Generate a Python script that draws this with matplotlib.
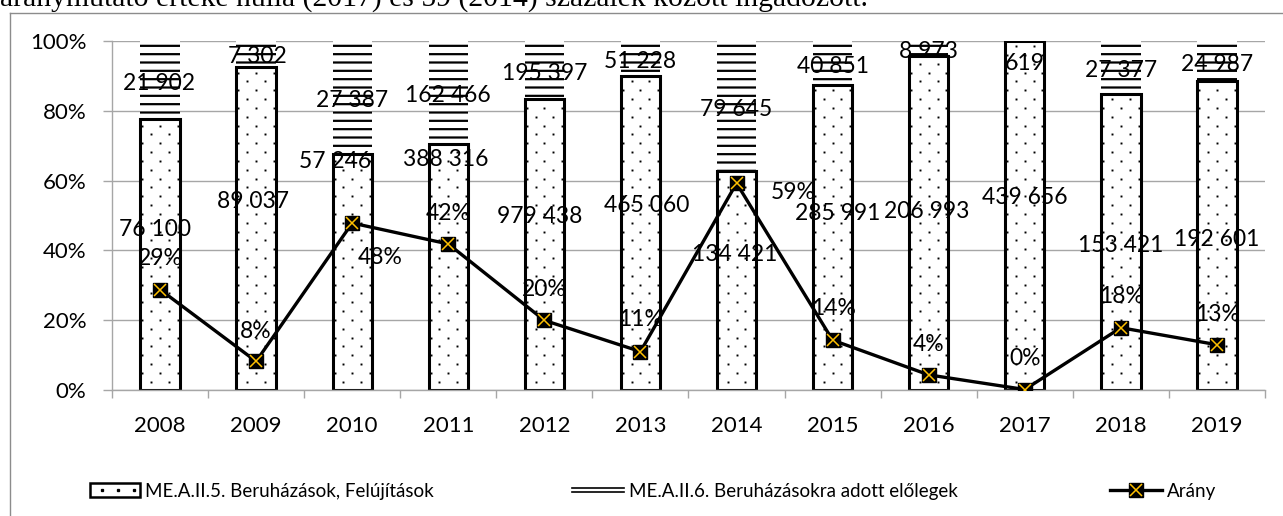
import matplotlib
matplotlib.use('Agg')
import matplotlib.pyplot as plt
import numpy as np
from matplotlib.patches import Rectangle
from matplotlib.lines import Line2D
from matplotlib.legend_handler import HandlerBase
from matplotlib.transforms import ScaledTranslation

plt.rcParams['font.family'] = ['Lato', 'DejaVu Sans']
plt.rcParams['hatch.linewidth'] = 1.6

# ---------------- data ----------------
years = ['2008', '2009', '2010', '2011', '2012', '2013',
         '2014', '2015', '2016', '2017', '2018', '2019']
beruhazasok = [76100, 89037, 57246, 388316, 979438, 465060,
               134421, 285991, 206993, 439656, 153421, 192601]
elolegek = [21902, 7302, 27387, 162466, 195397, 51228,
            79645, 40851, 8973, 619, 27377, 24987]
y_ticks = [0.0, 0.2, 0.4, 0.6, 0.8, 1.0]
series_names = ['ME.A.II.5. Beruházások, Felújítások',
                'ME.A.II.6. Beruházásokra adott előlegek',
                'Arány']
header_text = 'aránymutató értéke nulla (2017) és 59 (2014) százalék között ingadozott.'

# ---------------- label placement (layout only) ----------------
bot_lab_dx = [-0.05, -0.03, -0.18, -0.03, -0.045, 0.07, -0.015, 0.055, -0.02, 0.0, 0.0, 0.0]
bot_lab_y = [0.464, 0.544, 0.659, 0.665, 0.501, 0.533, 0.393, 0.510, 0.516, 0.556, 0.418, 0.436]
top_lab_dx = [-0.01, 0.01, 0.0, 0.0, 0.0, 0.0, 0.0, 0.0, 0.0, 0.0, 0.0, 0.0]
top_lab_y = [0.883, 0.960, 0.834, 0.848, 0.911, 0.946, 0.808, 0.931, 0.974, 0.940, 0.920, 0.937]
pct_lab_dx = [0.0, 0.0, 0.29, 0.0, 0.0, 0.0, 0.59, 0.01, 0.0, 0.0, 0.01, 0.01]
pct_lab_y = [0.381, 0.172, 0.384, 0.510, 0.292, 0.206, 0.570, 0.238, 0.135, 0.095, 0.272, 0.221]

W, H = 1283, 516
fig = plt.figure(figsize=(W / 100, H / 100), dpi=100)
ax = fig.add_axes([112 / W, 1 - 390 / H, (1265 - 112) / W, (390 - 41) / H])

a5 = np.array(beruhazasok, dtype=float)
a6 = np.array(elolegek, dtype=float)
tot = a5 + a6
f5 = a5 / tot
f6 = a6 / tot
ratio = a6 / a5
x = np.arange(len(years))

GRAY = '#a6a6a6'
bw = 0.41
bars6 = ax.bar(x, f6, bottom=f5, width=bw, color='white', edgecolor='black',
               linewidth=0, hatch='--', zorder=1.9)
bars5 = ax.bar(x, f5, width=bw, color='white', edgecolor='black',
               linewidth=2.2, zorder=2)

# dotted texture inside lower bars
dx_step = 0.184
dy_step = 0.0253
for i, patch in enumerate(bars5.patches):
    xs, ys = [], []
    j = 0
    while True:
        yy = 0.0238 + j * dy_step
        if yy > 1.0:
            break
        offs = [-dx_step / 2, dx_step / 2] if j % 2 == 0 else [-dx_step, 0.0, dx_step]
        for o in offs:
            xs.append(x[i] + o)
            ys.append(yy)
        j += 1
    ln, = ax.plot(xs, ys, ls='none', marker='s', ms=1.4, mfc='black', mec='none', zorder=2.1)
    ln.set_clip_path(patch)

# ratio line
ax.plot(x, ratio, color='black', lw=2.4, marker='s', ms=9.5, mfc='black', mec='black', zorder=4)
ax.plot(x, ratio, ls='none', marker='x', ms=8, mec='#FFC000', mew=1.1, zorder=5)

ax.set_xlim(-0.5, len(years) - 0.5)
ax.set_ylim(0, 1)
for s in ['top', 'right']:
    ax.spines[s].set_visible(False)
for s in ['left', 'bottom']:
    ax.spines[s].set_color(GRAY)
    ax.spines[s].set_linewidth(1.0)
ax.set_axisbelow(True)
ax.yaxis.grid(True, color=GRAY, lw=1.0)
ax.set_yticks(y_ticks, labels=[f'{int(round(v * 100))}%' for v in y_ticks])
ax.tick_params(axis='y', length=6.5, color=GRAY, width=1.0, pad=12, labelsize=16)
ax.set_xticks(x, labels=years)
ax.set_xticks(np.arange(-0.5, len(years), 1.0), minor=True)
ax.tick_params(axis='x', which='major', length=0, pad=19, labelsize=16)
ax.tick_params(axis='x', which='minor', length=5.8, color=GRAY, width=1.0)

# data labels
off = ax.transData + ScaledTranslation(0, -0.08, fig.dpi_scale_trans)
def fmt(v):
    return f'{int(v):,}'.replace(',', ' ')
for i in range(len(years)):
    ax.text(x[i] + bot_lab_dx[i], bot_lab_y[i], fmt(a5[i]), ha='center', va='baseline',
            fontsize=16.5, transform=off, zorder=6)
    ax.text(x[i] + top_lab_dx[i], top_lab_y[i], fmt(a6[i]), ha='center', va='baseline',
            fontsize=16.5, transform=off, zorder=6)
    ax.text(x[i] + pct_lab_dx[i], pct_lab_y[i], f'{int(round(ratio[i] * 100))}%', ha='center',
            va='baseline', fontsize=16.5, transform=off, zorder=6)

# legend handlers
class DotBoxHandler(HandlerBase):
    def create_artists(self, legend, orig_handle, xdescent, ydescent, width, height, fontsize, trans):
        r = Rectangle((-xdescent, -ydescent), width, height, facecolor='white',
                      edgecolor='black', lw=1.8, transform=trans)
        xs = [-xdescent + width * f for f in (0.25, 0.57, 0.88)]
        d = Line2D(xs, [-ydescent + height / 2] * 3, ls='none', marker='s', ms=1.4,
                   color='black', transform=trans)
        return [r, d]

class DoubleLineHandler(HandlerBase):
    def create_artists(self, legend, orig_handle, xdescent, ydescent, width, height, fontsize, trans):
        out = []
        for f in (0.34, 0.66):
            yy = -ydescent + height * f
            out.append(Line2D([-xdescent, -xdescent + width], [yy, yy], color='black',
                              lw=1.2, transform=trans))
        return out

h1 = Rectangle((0, 0), 1, 1)
h2 = Rectangle((0, 0), 1, 1)
h3a = Line2D([], [], color='black', lw=2.4, marker='s', ms=9.5, mfc='black', mec='black')
h3b = Line2D([], [], ls='none', marker='x', ms=8, mec='#FFC000', mew=1.1)

ly = 1 - 491 / H
common = dict(loc='center left', frameon=False, fontsize=13.5, borderpad=0,
              borderaxespad=0, handletextpad=0.3, numpoints=1)
fig.legend([h1], [series_names[0]], bbox_to_anchor=(90 / W, ly), handlelength=2.65,
           handler_map={h1: DotBoxHandler()}, **common)
fig.legend([h2], [series_names[1]], bbox_to_anchor=(572 / W, ly), handlelength=2.75,
           handler_map={h2: DoubleLineHandler()}, **common)
fig.legend([(h3a, h3b)], [series_names[2]], bbox_to_anchor=(1110 / W, ly), handlelength=2.75,
           **common)

# outer chart border and cropped header text (cut off at top as in the source)
fig.add_artist(Line2D([10 / W, 10 / W], [0, 1 - 13 / H], transform=fig.transFigure,
                      color='#8c8c8c', lw=1.0))
fig.add_artist(Line2D([10 / W, 1], [1 - 13 / H, 1 - 13 / H], transform=fig.transFigure,
                      color='#8c8c8c', lw=1.0))
fig.text(0, 1 - 6 / H, header_text, family=['Liberation Serif', 'DejaVu Serif'],
         fontsize=21.4, ha='left', va='baseline')

fig.savefig('out.png', dpi=100)
